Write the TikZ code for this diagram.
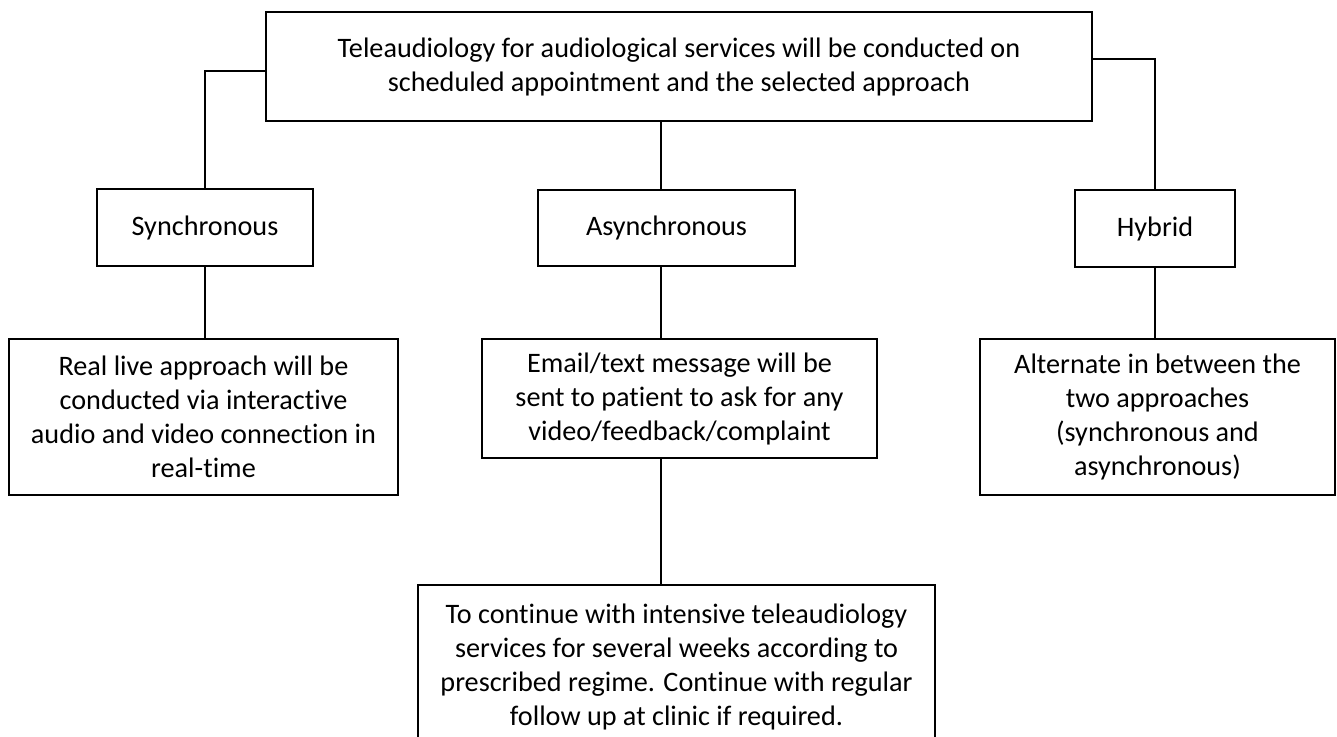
\documentclass[tikz,border=0pt]{standalone}
\usepackage{fontspec}
\setmainfont{Carlito}[Ligatures=NoCommon]
\usetikzlibrary{positioning}

\begin{document}
\begin{tikzpicture}[
    x=0.5pt, y=-0.5pt,
    block/.style={draw, line width=1pt, align=center, inner sep=0pt, font=\fontsize{14.1}{17}\selectfont},
    link/.style={line width=1pt}
]
    \clip (0,0) rectangle (1337,737);

    % Top block
    \node[block, minimum width=413pt, minimum height=54.5pt] (top) at (679,66.5)
        {Teleaudiology for audiological services will be conducted on\\ scheduled appointment and the selected approach};

    % Approaches
    \node[block, minimum width=108pt, minimum height=38.5pt] (sync) at (205,227.5) {Synchronous};
    \node[block, minimum width=128.5pt, minimum height=38pt] (async) at (666.5,228) {Asynchronous};
    \node[block, minimum width=80pt, minimum height=38.5pt] (hybrid) at (1155,228.5) {Hybrid};

    % Descriptions
    \node[block, minimum width=194.5pt, minimum height=78pt] (real) at (203.5,417)
        {Real live approach will be\\ conducted via interactive\\ audio and video connection in\\ real-time};
    \node[block, minimum width=197.5pt, minimum height=59.5pt] (email) at (679.5,398.5)
        {Email/text message will be\\ sent to patient to ask for any\\ video/feedback/complaint};
    \node[block, minimum width=177.5pt, minimum height=78pt] (alt) at (1157.5,417)
        {Alternate in between the\\ two approaches\\ (synchronous and\\ asynchronous)};
    \node[block, minimum width=258.5pt, minimum height=81.5pt] (cont) at (676.5,666.5)
        {To continue with intensive teleaudiology\\ services for several weeks according to\\ prescribed regime. Continue with regular\\ follow up at clinic if required.};

    % Connectors
    \coordinate (spine) at (661,0);
    \draw[link] (top.west) ++(0,4.5) -| (sync.north);
    \draw[link] (top.east) ++(0,-7.5) -| (hybrid.north);
    \draw[link] (top.south -| spine) -- (async.north -| spine);
    \draw[link] (sync.south) -- (sync.south |- real.north);
    \draw[link] (async.south -| spine) -- (email.north -| spine);
    \draw[link] (email.south -| spine) -- (cont.north -| spine);
    \draw[link] (hybrid.south) -- (hybrid.south |- alt.north);
\end{tikzpicture}
\end{document}
